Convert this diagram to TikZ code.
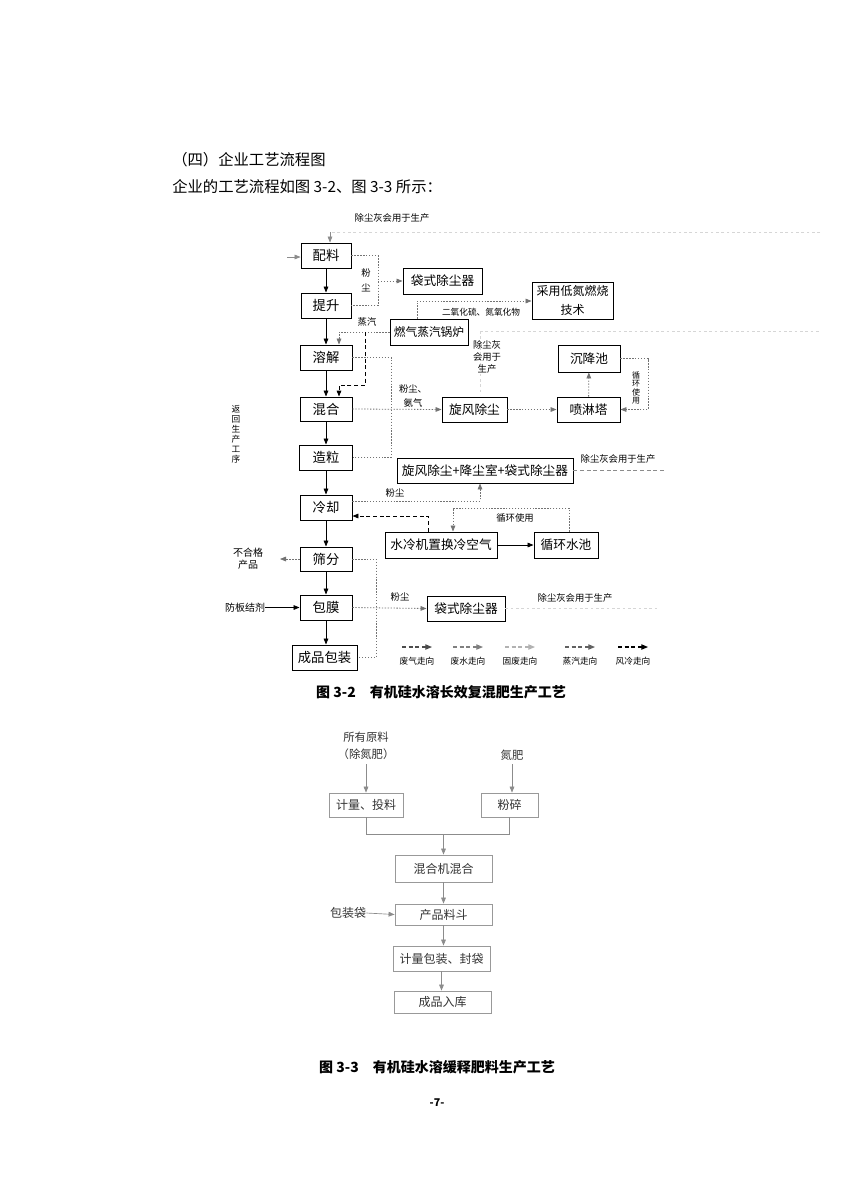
\documentclass[tikz,border=0pt]{standalone}
\usepackage{fontspec}
\setmainfont{Noto Sans CJK SC}
\usetikzlibrary{arrows.meta}
\newdimen\px \px=0.75pt
\newcommand\szH{\fontsize{11.5pt}{14pt}\selectfont}
\newcommand\szB{\fontsize{10pt}{12pt}\selectfont}
\newcommand\szM{\fontsize{9.5pt}{11pt}\selectfont}
\newcommand\szS{\fontsize{7pt}{9pt}\selectfont}
\newcommand\szT{\fontsize{6pt}{6.4pt}\selectfont}
\newcommand\szC{\fontsize{10.5pt}{12pt}\selectfont}
\newcommand\szG{\fontsize{9pt}{11pt}\selectfont}
\begin{document}
\begin{tikzpicture}[x=0.75pt,y=-0.75pt,
 sz/.style 2 args={minimum width=#1\px, minimum height=#2\px},
 bx/.style={draw=black, line width=0.7pt, inner sep=0pt, font=\szB},
 ob/.style={draw=black, line width=0.7pt, inner sep=0pt, font=\szM},
 gb/.style={draw=black!40, line width=0.6pt, inner sep=0pt, font=\szG, text=black!80},
 dl/.style={draw=black!55, line width=0.6pt, dash pattern=on 1pt off 1.2pt},
 faint/.style={draw=black!16, line width=0.5pt, dash pattern=on 2pt off 2pt},
 dsh/.style={draw=black, line width=0.7pt, dash pattern=on 3pt off 2pt},
 gdsh/.style={draw=black!45, line width=0.6pt, dash pattern=on 3pt off 2pt},
 sol/.style={draw=black, line width=0.6pt},
 gsol/.style={draw=black!45, line width=0.5pt},
 tip/.style={-{Triangle[length=4.5pt,width=3.5pt]}},
 lbl/.style={inner sep=0pt, font=\szS},
]
\fill[white] (0,0) rectangle (850,1204);
\useasboundingbox (0,0) rectangle (850,1204);

% header
\node[anchor=west, font=\szH, inner sep=0pt] (h1) at (172,160) {（四）企业工艺流程图};
\node[anchor=west, font=\szH, inner sep=0pt] (h2) at (172,187) {企业的工艺流程如图 3-2、图 3-3 所示：};
\node[lbl] (t1) at (392,218) {除尘灰会用于生产};

% main chain
\node[bx, sz={50}{25}] (pl) at (326,255.5) {配料};
\node[bx, sz={50}{25}] (ts) at (326,305.5) {提升};
\node[bx, sz={52}{25}] (rj) at (326,357.5) {溶解};
\node[bx, sz={52}{24}] (hh) at (326,409) {混合};
\node[bx, sz={53}{25}] (zl) at (326,457.5) {造粒};
\node[bx, sz={52}{25}] (lq) at (326,507.5) {冷却};
\node[bx, sz={52}{24}] (sf) at (326,559) {筛分};
\node[bx, sz={52}{25}] (bm) at (326,607.5) {包膜};
\node[bx, sz={65}{25}] (cp) at (324.5,657.5) {成品包装};

% other boxes
\node[ob, sz={79}{26}] (dd1) at (442.5,281) {袋式除尘器};
\node[ob, sz={81}{37}, align=center, font=\fontsize{9pt}{14pt}\selectfont] (cy) at (572.5,300.5) {采用低氮燃烧\\技术};
\node[ob, sz={78}{26}, font=\fontsize{8.8pt}{10pt}\selectfont] (gl) at (429,332) {燃气蒸汽锅炉};
\node[ob, sz={65}{25}] (xf) at (474.5,409.5) {旋风除尘};
\node[ob, sz={63}{25}] (pt) at (588.5,409.5) {喷淋塔};
\node[ob, sz={62}{27}] (cj) at (589,358.5) {沉降池};
\node[ob, sz={176}{25}] (xfj) at (485,470.5) {旋风除尘+降尘室+袋式除尘器};
\node[ob, sz={112}{26}] (sl) at (441,545) {水冷机置换冷空气};
\node[ob, sz={64}{26}] (xh) at (566,545) {循环水池};
\node[ob, sz={78}{25}] (dd2) at (466,608.5) {袋式除尘器};

% top recycle line
\coordinate (r1) at (820,232);
\coordinate (r1b) at (330,232);
\draw[faint] (r1) -- (r1b);
\draw[gsol, tip] (r1b) -- (pl.north -| r1b);
\coordinate (lin) at (287,257);
\draw[gsol, tip] (lin) -- (pl.west |- lin);

% chain arrows
\draw[sol,tip] (pl) -- (ts);
\draw[sol,tip] (ts) -- (rj);
\draw[sol,tip] (rj) -- (hh);
\draw[sol,tip] (hh) -- (zl);
\draw[sol,tip] (zl) -- (lq);
\draw[sol,tip] (lq) -- (sf);
\draw[sol,tip] (sf) -- (bm);
\draw[sol,tip] (bm.south) -- (bm.south |- cp.north);

% dust of 配料/提升
\draw[dl] (pl.east) -- (378,255.5) -- (378,305.5) -- (ts.east);
\draw[dl,tip] (378,281) -- (dd1.west);
\node[lbl, align=center, font=\fontsize{7pt}{11pt}\selectfont] (lb1) at (366,280) {粉\\尘};

% boiler
\draw[dl,tip] (gl.north -| 417,0) -- (417,301) -- (cy.west |- 0,301);
\node[lbl, font=\fontsize{6.5pt}{8pt}\selectfont] (lb2) at (481,312) {二氧化硫、氮氧化物};
\draw[dl,tip] (gl.west) -- (339,332) -- (rj.north -| 339,0);
\coordinate (st) at (365,332);
\draw[dsh,tip] (st) -- (365,385) -- (339,385) -- (hh.north -| 339,0);
\node[lbl] (lb3) at (367,322) {蒸汽};

% 溶解 bracket and 混合 exhaust
\draw[dl] (rj.east) -- (391,357.5) -- (391,457.5) -- (zl.east);
\draw[dl,tip] (hh.east) -- (xf.west);
\node[lbl, align=center, font=\fontsize{7pt}{10pt}\selectfont] (lb4) at (413,396) {粉尘、\\氨气};
\draw[dl,tip] (xf) -- (pt);
\draw[dl,tip] (pt) -- (cj);
\draw[dl,tip] (cj.east) -- (648,358.5) -- (648,409.5) -- (pt.east);
\node[lbl, align=center, font=\szT] (lb5) at (636,388) {循\\环\\使\\用};
\draw[faint] (480,331) -- (820,331);
\draw[faint] (480,331) -- (480,395);
\node[lbl, align=center, font=\fontsize{7pt}{9pt}\selectfont] (lb6) at (487,357) {除尘灰\\会用于\\生产};

% cooling
\draw[gdsh] (xfj.east) -- (665,470.5);
\node[lbl] (lb7) at (618,459) {除尘灰会用于生产};
\draw[dl,tip] (lq.east |- 0,501) -- (480,501) -- (xfj.south -| 480,0);
\node[lbl] (lb8) at (395,493) {粉尘};
\draw[dsh,tip] (sl.north -| 428,0) -- (428,516) -- (lq.east |- 0,516);
\draw[sol,tip] (sl) -- (xh);
\draw[dl,tip] (xh.north -| 569,0) -- (569,508) -- (453,508) -- (sl.north -| 453,0);
\node[lbl] (lb9) at (515,518) {循环使用};

% screening / coating
\coordinate (rej) at (280,559);
\draw[dl,tip] (sf.west) -- (rej);
\node[lbl, align=center, font=\fontsize{7.5pt}{9pt}\selectfont] (lb10) at (248,559) {不合格\\产品};
\draw[dl] (sf.east) -- (376,559) -- (376,657.5) -- (cp.east);
\draw[dl,tip] (bm.east) -- (dd2.west);
\node[lbl] (lb11) at (400,597) {粉尘};
\node[lbl, font=\fontsize{7.5pt}{9pt}\selectfont] (fbj) at (245,607.5) {防板结剂};
\draw[sol,tip] (fbj.east) -- (bm.west);
\draw[faint] (dd2.east) -- (660,608.5);
\node[lbl] (lb12) at (575,598) {除尘灰会用于生产};
\node[lbl, align=center, font=\fontsize{6.5pt}{7.5pt}\selectfont] (lb13) at (236,434) {返\\回\\生\\产\\工\\序};

% legend
\foreach \cx/\col/\txt [count=\i] in {417/black!70/废气走向, 468/black!50/废水走向, 520/black!30/固废走向, 580/black!62/蒸汽走向, 633/black/风冷走向}{
  \coordinate (la\i) at (\cx-15,647);
  \coordinate (lb\i) at (\cx+15,647);
  \draw[draw=\col, line width=0.8pt, dash pattern=on 3pt off 2pt, -{Triangle[length=5pt,width=4pt]}, \col] (la\i) -- (lb\i);
  \node[lbl, font=\fontsize{6.5pt}{8pt}\selectfont] (lt\i) at (\cx,661) {\txt};
}

% caption 3-2
\node[inner sep=0pt, font=\szC\bfseries] (cap1) at (441,692) {图 3-2\quad 有机硅水溶长效复混肥生产工艺};

% figure 3-3
\node[inner sep=0pt, align=center, font=\fontsize{8.5pt}{12.5pt}\selectfont, text=black!80] (src1) at (366,746) {所有原料\\（除氮肥）};
\node[inner sep=0pt, font=\fontsize{8.5pt}{10pt}\selectfont, text=black!80] (src2) at (512,755) {氮肥};
\node[gb, sz={74}{24}] (jl) at (366,805) {计量、投料};
\node[gb, sz={57}{24}] (fs) at (509.5,805) {粉碎};
\node[gb, sz={97}{27}] (hj) at (443.5,868.5) {混合机混合};
\node[gb, sz={97}{21}] (cl) at (443.5,914.5) {产品料斗};
\node[gb, sz={97}{25}] (jb) at (441.5,958.5) {计量包装、封袋};
\node[gb, sz={97}{22}] (cr) at (442.5,1002) {成品入库};
\node[inner sep=0pt, font=\szG, text=black!80] (bzd) at (348,913) {包装袋};

\draw[gsol,tip] (src1.south |- 0,764) -- (jl.north -| src1.south);
\draw[gsol,tip] (src2.south |- 0,764) -- (fs.north -| src2.south);
\draw[gsol] (jl.south) -- (jl.south |- 0,834) -- (fs.south |- 0,834) -- (fs.south);
\draw[gsol,tip] (443.5,834) -- (hj.north);
\draw[gsol,tip] (hj) -- (cl);
\draw[gsol,tip] (cl.south) -- (cl.south |- jb.north);
\draw[gsol,tip] (jb.south) -- (jb.south |- cr.north);
\draw[gsol,tip] (bzd.east) -- (cl.west);

\node[inner sep=0pt, font=\szC\bfseries] (cap2) at (437,1067) {图 3-3\quad 有机硅水溶缓释肥料生产工艺};
\node[inner sep=0pt, font=\fontsize{8pt}{10pt}\selectfont\bfseries] (pg) at (437,1103) {-7-};
\end{tikzpicture}
\end{document}
